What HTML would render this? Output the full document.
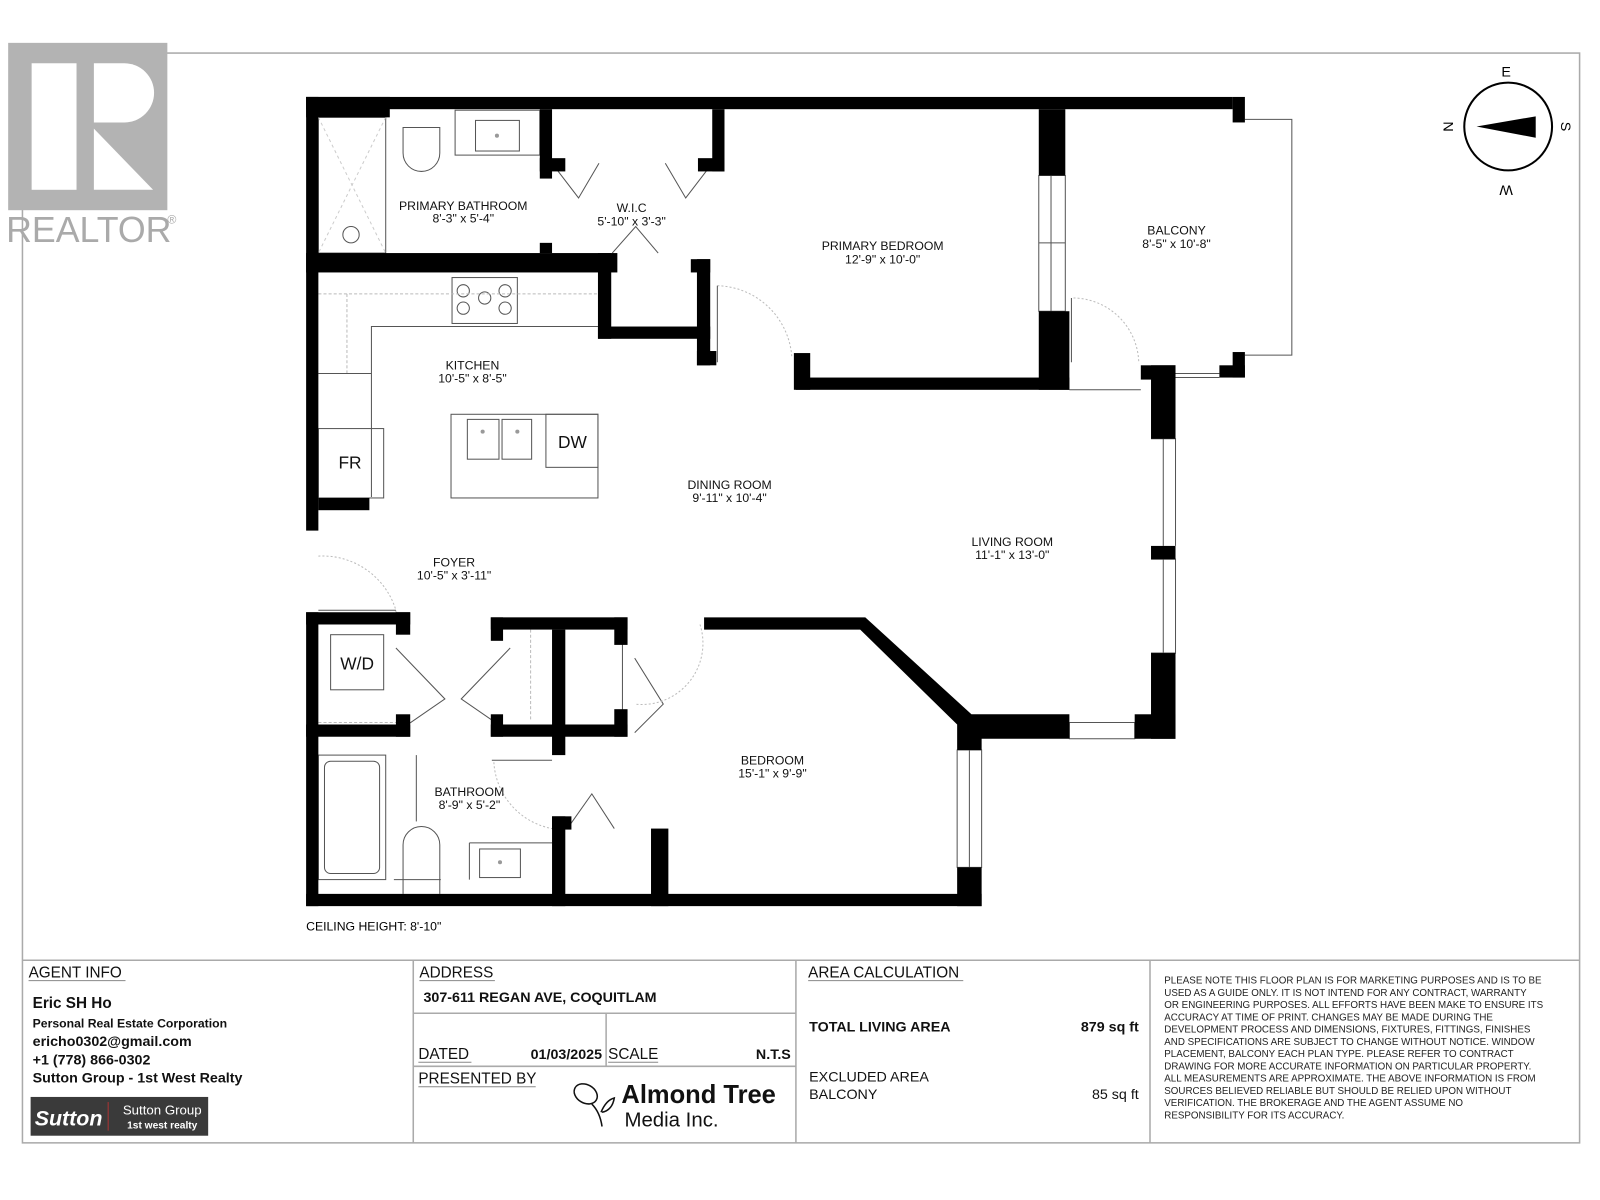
<!DOCTYPE html>
<html><head><meta charset="utf-8"><style>
html,body{margin:0;padding:0;background:#fff}
svg{display:block}
text{font-family:"Liberation Sans",Arial,sans-serif}
</style></head><body>
<svg width="1600" height="1200" viewBox="0 0 1568 1176" xmlns="http://www.w3.org/2000/svg">
<rect width="1568" height="1176" fill="#fff"/>
<rect x="22" y="52" width="1526" height="1068" fill="none" stroke="#aaa" stroke-width="1.5"/>
<rect x="8" y="42" width="156" height="164" fill="#b3b3b3"/>
<rect x="31" y="62" width="44" height="124" fill="#fff"/>
<path d="M92 62 H122 A29 29 0 0 1 122 120 H92 Z" fill="#fff"/>
<path d="M92 126 L150 186 H92 Z" fill="#fff"/>
<text x="6" y="237" font-size="35" fill="#aaa">REALTOR</text><text x="164" y="219" font-size="12" fill="#aaa">®</text>
<circle cx="1478" cy="124" r="43" fill="#fff" stroke="#000" stroke-width="2"/>
<path d="M1447 124 L1505 114 L1505 135 Z" fill="#000"/>
<text x="1476" y="75" font-size="14" text-anchor="middle">E</text>
<text x="1476" y="174" font-size="14" text-anchor="middle" transform="rotate(180 1476 178)">W</text>
<text x="1530" y="124" font-size="14" text-anchor="middle" transform="rotate(90 1530 124)">S</text>
<text x="1424" y="124" font-size="14" text-anchor="middle" transform="rotate(-90 1424 124)">N</text>

<g fill="none" stroke="#555" stroke-width="1">
 <rect x="312" y="115" width="66" height="133"/>
 <path d="M312 115 L378 248 M378 115 L312 248" stroke="#ccc" stroke-dasharray="3 3"/>
 <circle cx="344" cy="230" r="8"/>
 <path d="M395 125 V150 A18 18 0 0 0 431 150 V125 Z"/>
 <rect x="446" y="108" width="83" height="44"/>
 <rect x="466" y="118" width="43" height="30"/>
 <rect x="443" y="272" width="64" height="45"/>
 <circle cx="454" cy="285" r="6"/><circle cx="495" cy="285" r="6"/><circle cx="475" cy="292" r="6"/><circle cx="454" cy="302" r="6"/><circle cx="495" cy="302" r="6"/>
 <path d="M312 288 H586 M340 288 V366" stroke="#bbb" stroke-dasharray="3 2"/>
 <path d="M586 320 H364 V487 M312 366 H364"/>
 <rect x="312" y="420" width="64" height="68"/>
 <rect x="442" y="406" width="144" height="82"/>
 <rect x="458" y="411" width="31" height="39"/><rect x="492" y="411" width="29" height="39"/>
 <rect x="535" y="406" width="51" height="52"/>
 <path d="M703 280 A75 75 0 0 1 776 350" stroke="#bbb" stroke-dasharray="2 2"/>
 <path d="M703 280 V355"/>
 <path d="M1052 292 A65 65 0 0 1 1116 356" stroke="#bbb" stroke-dasharray="2 2"/>
 <path d="M1050 292 V355 M1048 382 H1118"/>
 <path d="M1220 117 H1266 V348 H1220 M1150 366 H1195 M1150 370 H1195"/>
 <path d="M1018 172 H1044 V305 H1018 Z M1030 172 V305 M1018 238 H1044"/>
 <path d="M1128 430 H1152 V535 M1128 548 H1152 V640 H1128 M1140 430 V535 M1140 548 V640"/>
 <path d="M1048 708 H1112 V724 H1048 Z"/>
 <path d="M938 735 H962 V850 H938 Z M950 735 V850"/>
 <path d="M312 545 A75 75 0 0 1 388 598 V600" stroke="#bbb" stroke-dasharray="2 2"/>
 <path d="M312 598 H388"/>
 <path d="M541 160 L567 194 L587 160 M698 160 L672 194 L652 160 M600 248 L623 222 L645 248"/>
 <path d="M388 635 L436 685 L388 718 M500 635 L452 685 L500 718"/>
 <path d="M622 645 L650 690 L622 718"/>
 <path d="M556 812 L580 778 L602 812"/>
 <path d="M312 708 H388" stroke="#bbb" stroke-dasharray="3 2"/>
 <path d="M520 617 V706" stroke="#bbb" stroke-dasharray="3 2"/>
 <path d="M610 617 V706"/>
 <path d="M686 612 A60 60 0 0 1 622 690" stroke="#bbb" stroke-dasharray="2 2"/>
 <path d="M484 747 A70 70 0 0 0 541 812" stroke="#bbb" stroke-dasharray="2 2"/>
 <path d="M482 745 H541"/>
 <rect x="324" y="622" width="52" height="54"/>
 <rect x="312" y="740" width="66" height="122"/>
 <rect x="318" y="746" width="54" height="110" rx="6"/>
 <path d="M395 876 V828 A18 18 0 0 1 431 828 V876"/>
 <path d="M386 862 H432 M460 826 V862 M460 826 H541"/>
 <rect x="470" y="832" width="40" height="28"/>
 <path d="M408 740 V805"/>
 <circle cx="487" cy="133" r="2" fill="#999" stroke="none"/>
 <circle cx="473" cy="423" r="2" fill="#999" stroke="none"/>
 <circle cx="507" cy="423" r="2" fill="#999" stroke="none"/>
 <circle cx="490" cy="845" r="2" fill="#999" stroke="none"/>
</g>

<g fill="#000">
 <rect x="300" y="95" width="908" height="12"/>
 <rect x="300" y="95" width="82" height="20"/>
 <rect x="1208" y="95" width="12" height="25"/>
 <rect x="300" y="95" width="12" height="425"/>
 <rect x="312" y="488" width="50" height="12"/>
 <rect x="300" y="600" width="12" height="288"/>
 <rect x="300" y="248" width="305" height="19"/>
 <rect x="529" y="107" width="12" height="68"/>
 <rect x="529" y="155" width="25" height="13"/>
 <rect x="529" y="238" width="12" height="10"/>
 <rect x="698" y="107" width="12" height="61"/>
 <rect x="684" y="155" width="26" height="13"/>
 <rect x="586" y="248" width="13" height="84"/>
 <rect x="586" y="320" width="110" height="12"/>
 <rect x="683" y="254" width="13" height="104"/>
 <rect x="677" y="254" width="19" height="13"/>
 <rect x="683" y="344" width="19" height="14"/>
 <rect x="778" y="346" width="16" height="36"/>
 <rect x="780" y="370" width="268" height="12"/>
 <rect x="1018" y="107" width="26" height="65"/>
 <rect x="1018" y="305" width="30" height="77"/>
 <rect x="1118" y="358" width="34" height="14"/>
 <rect x="1128" y="358" width="24" height="72"/>
 <rect x="1128" y="535" width="24" height="13"/>
 <rect x="1128" y="640" width="24" height="84"/>
 <rect x="1112" y="700" width="40" height="24"/>
 <rect x="1195" y="358" width="25" height="12"/>
 <rect x="1208" y="345" width="12" height="25"/>
 <path d="M690 605 H848 L952 700 H1048 V724 H962 V735 H938 V710 L843 617 H690 Z"/>
 <rect x="938" y="850" width="24" height="38"/>
 <rect x="300" y="876" width="662" height="12"/>
 <rect x="300" y="600" width="102" height="12"/>
 <rect x="388" y="600" width="14" height="22"/>
 <rect x="481" y="605" width="134" height="12"/>
 <rect x="481" y="605" width="12" height="23"/>
 <rect x="602" y="605" width="13" height="27"/>
 <rect x="541" y="617" width="13" height="123"/>
 <rect x="300" y="710" width="102" height="12"/>
 <rect x="388" y="700" width="14" height="22"/>
 <rect x="481" y="710" width="134" height="12"/>
 <rect x="481" y="700" width="12" height="22"/>
 <rect x="602" y="695" width="13" height="27"/>
 <rect x="541" y="800" width="13" height="88"/>
 <rect x="541" y="800" width="19" height="13"/>
 <rect x="638" y="812" width="17" height="76"/>
</g>

<g font-size="12" text-anchor="middle" fill="#111">
 <text x="454" y="206">PRIMARY BATHROOM</text><text x="454" y="218">8'-3" x 5'-4"</text>
 <text x="619" y="208">W.I.C</text><text x="619" y="221">5'-10" x 3'-3"</text>
 <text x="865" y="245">PRIMARY BEDROOM</text><text x="865" y="258">12'-9" x 10'-0"</text>
 <text x="1153" y="230">BALCONY</text><text x="1153" y="243">8'-5" x 10'-8"</text>
 <text x="463" y="362">KITCHEN</text><text x="463" y="375">10'-5" x 8'-5"</text>
 <text x="715" y="479">DINING ROOM</text><text x="715" y="492">9'-11" x 10'-4"</text>
 <text x="992" y="535">LIVING ROOM</text><text x="992" y="548">11'-1" x 13'-0"</text>
 <text x="445" y="555">FOYER</text><text x="445" y="568">10'-5" x 3'-11"</text>
 <text x="757" y="749">BEDROOM</text><text x="757" y="762">15'-1" x 9'-9"</text>
 <text x="460" y="780">BATHROOM</text><text x="460" y="793">8'-9" x 5'-2"</text>
 <text x="343" y="459" font-size="17">FR</text>
 <text x="561" y="439" font-size="17">DW</text>
 <text x="350" y="656" font-size="17">W/D</text>
</g>
<text x="300" y="912" font-size="12">CEILING HEIGHT: 8'-10"</text>

<g stroke="#aaa" stroke-width="1.5" fill="none">
 <path d="M22 941 H1548 M405 941 V1120 M780 941 V1120 M1127 941 V1120 M405 993 H780 M405 1045 H780 M594 993 V1045"/>
</g>
<g font-size="15" fill="#111">
 <text x="28" y="958">AGENT INFO</text><path d="M28 961 H123" stroke="#888"/>
 <text x="411" y="958">ADDRESS</text><path d="M411 961 H485" stroke="#888"/>
 <text x="792" y="958">AREA CALCULATION</text><path d="M792 961 H944" stroke="#888"/>
 <text x="410" y="1038">DATED</text><path d="M410 1041 H462" stroke="#888"/>
 <text x="596" y="1038">SCALE</text><path d="M596 1041 H645" stroke="#888"/>
 <text x="410" y="1062">PRESENTED BY</text><path d="M410 1065 H525" stroke="#888"/>
</g>
<g font-weight="bold" fill="#111">
 <text x="32" y="988" font-size="15">Eric SH Ho</text>
 <text x="32" y="1007" font-size="12">Personal Real Estate Corporation</text>
 <text x="32" y="1025" font-size="14">ericho0302@gmail.com</text>
 <text x="32" y="1043" font-size="14">+1 (778) 866-0302</text>
 <text x="32" y="1061" font-size="14">Sutton Group - 1st West Realty</text>
 <text x="415" y="982" font-size="14">307-611 REGAN AVE, COQUITLAM</text>
 <text x="590" y="1038" font-size="14" text-anchor="end">01/03/2025</text>
 <text x="775" y="1038" font-size="14" text-anchor="end">N.T.S</text>
 <text x="793" y="1011" font-size="14">TOTAL LIVING AREA</text>
 <text x="1116" y="1011" font-size="14" text-anchor="end">879 sq ft</text>
</g>
<g font-size="14" fill="#111">
 <text x="793" y="1060">EXCLUDED AREA</text>
 <text x="793" y="1077">BALCONY</text>
 <text x="1116" y="1077" text-anchor="end">85 sq ft</text>
</g>
<rect x="30" y="1075" width="174" height="38" fill="#3a3a3a"/>
<text x="34" y="1103" font-size="21" font-weight="bold" fill="#fff" font-family="Liberation Serif,serif" font-style="italic">Sutton</text>
<path d="M106 1080 V1108" stroke="#a33"/>
<text x="159" y="1092" font-size="13" fill="#fff" text-anchor="middle">Sutton Group</text>
<text x="159" y="1106" font-size="10" font-weight="bold" fill="#fff" text-anchor="middle">1st west realty</text>
<g fill="none" stroke="#111" stroke-width="1.5">
 <ellipse cx="574" cy="1072" rx="12" ry="9" transform="rotate(30 574 1072)"/>
 <path d="M580 1082 Q588 1090 590 1104 M589 1090 Q594 1078 602 1076 Q600 1088 590 1090"/>
</g>
<text x="609" y="1081" font-size="25" font-weight="bold" fill="#111">Almond Tree</text>
<text x="612" y="1104" font-size="20" fill="#111">Media Inc.</text>
<g font-size="9.6" fill="#222">
 <text x="1141" y="964">PLEASE NOTE THIS FLOOR PLAN IS FOR MARKETING PURPOSES AND IS TO BE</text>
 <text x="1141" y="976">USED AS A GUIDE ONLY. IT IS NOT INTEND FOR ANY CONTRACT, WARRANTY</text>
 <text x="1141" y="988">OR ENGINEERING PURPOSES. ALL EFFORTS HAVE BEEN MAKE TO ENSURE ITS</text>
 <text x="1141" y="1000">ACCURACY AT TIME OF PRINT. CHANGES MAY BE MADE DURING THE</text>
 <text x="1141" y="1012">DEVELOPMENT PROCESS AND DIMENSIONS, FIXTURES, FITTINGS, FINISHES</text>
 <text x="1141" y="1024">AND SPECIFICATIONS ARE SUBJECT TO CHANGE WITHOUT NOTICE. WINDOW</text>
 <text x="1141" y="1036">PLACEMENT, BALCONY EACH PLAN TYPE. PLEASE REFER TO CONTRACT</text>
 <text x="1141" y="1048">DRAWING FOR MORE ACCURATE INFORMATION ON PARTICULAR PROPERTY.</text>
 <text x="1141" y="1060">ALL MEASUREMENTS ARE APPROXIMATE. THE ABOVE INFORMATION IS FROM</text>
 <text x="1141" y="1072">SOURCES BELIEVED RELIABLE BUT SHOULD BE RELIED UPON WITHOUT</text>
 <text x="1141" y="1084">VERIFICATION. THE BROKERAGE AND THE AGENT ASSUME NO</text>
 <text x="1141" y="1096">RESPONSIBILITY FOR ITS ACCURACY.</text>
</g>
</svg>
</body></html>
